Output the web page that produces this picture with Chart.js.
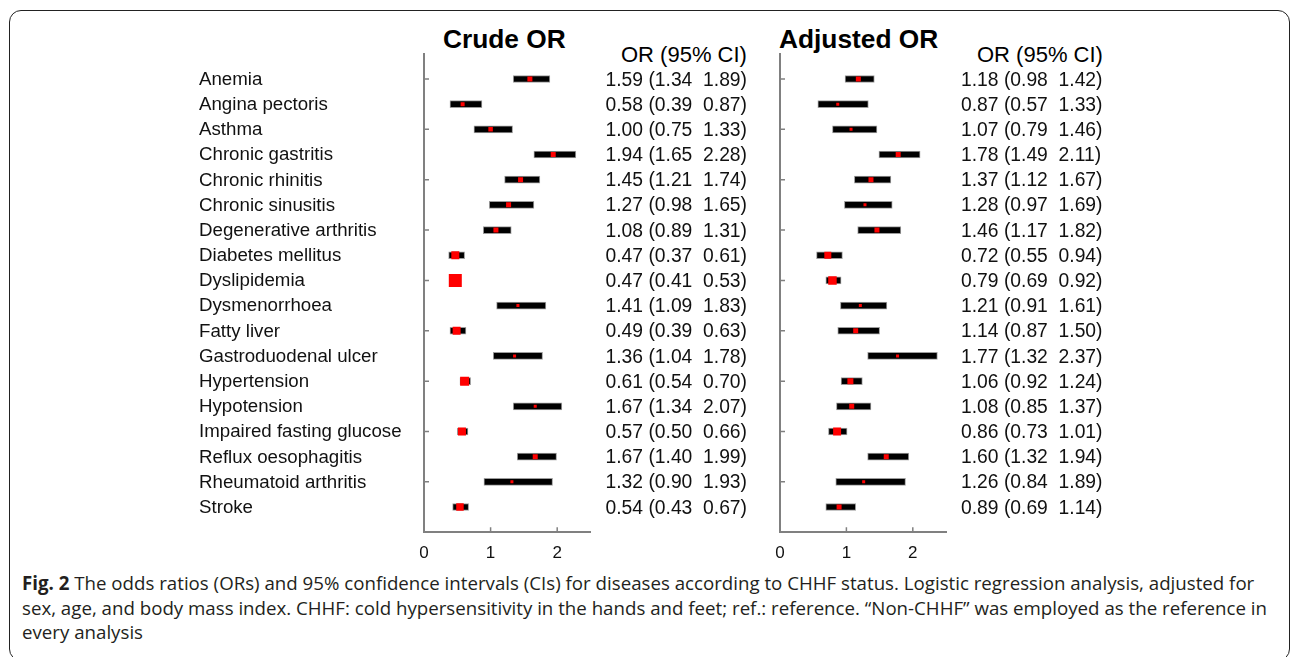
<!DOCTYPE html>
<html><head><meta charset="utf-8">
<script src="https://cdn.jsdelivr.net/npm/chart.js@4.4.1/dist/chart.umd.min.js"></script>
<style>
html,body{margin:0;padding:0;background:#fff;}
body{width:1292px;height:657px;position:relative;overflow:hidden;font-family:"Liberation Sans",Arial,sans-serif;}
#box{position:absolute;left:9px;top:10px;width:1281px;height:651px;border:1.3px solid #222;border-radius:12px;box-sizing:border-box;}
.t{position:absolute;white-space:nowrap;line-height:1;color:#000;}
.title{font-weight:bold;font-size:26.3px;}
.hdr{font-size:22px;}
.lab{font-size:18.7px;color:#111;}
.val{font-size:19.3px;color:#111;white-space:pre;}
#cap{position:absolute;left:22px;top:571px;font-family:"Open Sans",sans-serif;font-size:18.7px;line-height:24.5px;color:#231f20;white-space:nowrap;}
canvas{position:absolute;}
</style></head>
<body>
<div id="box"></div>
<div class="t title" style="left:443px;top:25.5px">Crude OR</div>
<div class="t title" style="left:779px;top:25.5px">Adjusted OR</div>
<div class="t hdr" style="left:621px;top:44px">OR (95% CI)</div>
<div class="t hdr" style="left:977px;top:44px">OR (95% CI)</div>
<canvas id="c1" width="570" height="530" style="left:190px;top:40px"></canvas>
<canvas id="c2" width="360" height="530" style="left:760px;top:40px"></canvas>
<div id="labels"></div>
<div id="cap"><b>Fig. 2</b> The odds ratios (ORs) and 95% confidence intervals (CIs) for diseases according to CHHF status. Logistic regression analysis, adjusted for<br>sex, age, and body mass index. CHHF: cold hypersensitivity in the hands and feet; ref.: reference. “Non-CHHF” was employed as the reference in<br>every analysis</div>
<script>
const categories = ["Anemia","Angina pectoris","Asthma","Chronic gastritis","Chronic rhinitis","Chronic sinusitis","Degenerative arthritis","Diabetes mellitus","Dyslipidemia","Dysmenorrhoea","Fatty liver","Gastroduodenal ulcer","Hypertension","Hypotension","Impaired fasting glucose","Reflux oesophagitis","Rheumatoid arthritis","Stroke"];

const crudeOR = [1.59,0.58,1.00,1.94,1.45,1.27,1.08,0.47,0.47,1.41,0.49,1.36,0.61,1.67,0.57,1.67,1.32,0.54];
const crudeLo = [1.34,0.39,0.75,1.65,1.21,0.98,0.89,0.37,0.41,1.09,0.39,1.04,0.54,1.34,0.50,1.40,0.90,0.43];
const crudeHi = [1.89,0.87,1.33,2.28,1.74,1.65,1.31,0.61,0.53,1.83,0.63,1.78,0.70,2.07,0.66,1.99,1.93,0.67];
const crudeMarker = [5,4,4.5,5,5,5,5,8,13,3,8,3,9,3,8,5,3,7.5];

const adjOR = [1.18,0.87,1.07,1.78,1.37,1.28,1.46,0.72,0.79,1.21,1.14,1.77,1.06,1.08,0.86,1.60,1.26,0.89];
const adjLo = [0.98,0.57,0.79,1.49,1.12,0.97,1.17,0.55,0.69,0.91,0.87,1.32,0.92,0.85,0.73,1.32,0.84,0.69];
const adjHi = [1.42,1.33,1.46,2.11,1.67,1.69,1.82,0.94,0.92,1.61,1.50,2.37,1.24,1.37,1.01,1.94,1.89,1.14];
const adjMarker = [5,3,3,5,5,3,5,7,8.5,3,5,3,6,5,8,5,3,5];

const xTicks = [0,1,2];

const FONT = '"Liberation Sans", Arial, sans-serif';
const fmt = v => v.toFixed(2);
const ciLabels = (o,l,h) => categories.map((c,i)=>`${fmt(o[i])} (${fmt(l[i])}  ${fmt(h[i])})`);

const innerTicks = {
  id:'innerTicks',
  afterDraw(chart){
    const ctx = chart.ctx, a = chart.chartArea, ys = chart.scales.y, xs = chart.scales.x;
    ctx.save();
    ctx.strokeStyle = '#808080'; ctx.lineWidth = 1.5;
    ctx.beginPath();
    categories.forEach((c,i)=>{ if(i%2===0){ const py = ys.getPixelForValue(i); ctx.moveTo(a.left, py); ctx.lineTo(a.left+5, py);} });
    xTicks.forEach(v=>{ if(v>0){ const px = xs.getPixelForValue(v); ctx.moveTo(px, a.bottom); ctx.lineTo(px, a.bottom-5);} });
    ctx.stroke();
    ctx.restore();
  }
};

function makeChart(id, or, lo, hi, sizes, o){
  return new Chart(document.getElementById(id), {
    type:'bar',
    data:{datasets:[
      {type:'bar', data: categories.map((c,i)=>({x:[lo[i],hi[i]], y:i})), backgroundColor:'#000', borderColor:'#9c9c9c', borderWidth:1, borderSkipped:false, barThickness:7, order:2, xAxisID:'x', yAxisID:'y'},
      {type:'scatter', data: categories.map((c,i)=>({x:or[i], y:i})), pointStyle:'rect', pointRadius: sizes.map(s=>s/Math.SQRT2), pointBackgroundColor:'#ff0000', pointBorderWidth:0, borderWidth:0, showLine:false, order:1, xAxisID:'x', yAxisID:'y'}
    ]},
    options:{
      indexAxis:'y', responsive:false, animation:false, devicePixelRatio:1,
      layout:{padding:{left:o.padLeft, top:13.8, right:0, bottom:0}},
      plugins:{legend:{display:false}, tooltip:{enabled:false}, title:{display:false}},
      scales:{
        x:{type:'linear', position:'bottom', min:0, max:2.5, offset:false, afterBuildTicks:s=>{ s.ticks = xTicks.map(v=>({value:v})); },
           grid:{display:false, drawTicks:false}, border:{display:true, color:'#808080', width:2},
           ticks:{font:{size:17, family:FONT}, color:'#111', padding:11}, afterFit:s=>{ s.height = 37.8; }},
        y:{type:'linear', position:'left', min:-1, max:18, reverse:true, offset:false,
           grid:{display:false, drawTicks:false}, border:{display:true, color:'#808080', width:2},
           ticks:{display:false}, afterFit:s=>{ s.width = o.leftW; }},
        yR:{type:'linear', position:'right', min:-1, max:18, reverse:true, offset:false,
           grid:{display:false, drawTicks:false}, border:{display:false},
           ticks:{display:false}, afterFit:s=>{ s.width = o.rightW; }}
      }
    },
    plugins:[innerTicks]
  });
}

function addText(cls, text, left, top){
  const d = document.createElement('div');
  d.className = 't ' + cls; d.textContent = text;
  d.style.left = left + 'px'; d.style.top = top + 'px';
  document.getElementById('labels').appendChild(d);
}

function addRowTexts(chart, canvasLeft, canvasTop, values, withNames){
  const ys = chart.scales.y, a = chart.chartArea;
  categories.forEach((c,i)=>{
    const py = canvasTop + ys.getPixelForValue(i);
    if (withNames) addText('lab', c, 199, py - 0.4885*18.7);
    addText('val', values[i], canvasLeft + a.right + 15, py - 0.4885*19.3);
  });
}

const ch1 = makeChart('c1', crudeOR, crudeLo, crudeHi, crudeMarker, {padLeft:9, leftW:225, rightW:169.5});
const ch2 = makeChart('c2', adjOR, adjLo, adjHi, adjMarker, {padLeft:0, leftW:20, rightW:174});
addRowTexts(ch1, 190, 40, ciLabels(crudeOR, crudeLo, crudeHi), true);
addRowTexts(ch2, 760, 40, ciLabels(adjOR, adjLo, adjHi), false);
</script>
</body></html>
